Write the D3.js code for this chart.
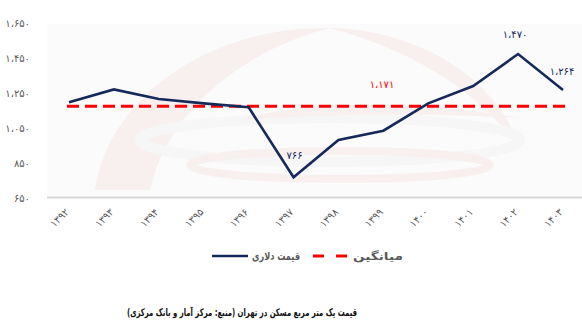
<!DOCTYPE html>
<html>
<head>
<meta charset="utf-8">
<script src="https://cdn.jsdelivr.net/npm/d3@7"></script>
<style>
  html, body { margin: 0; padding: 0; background: #ffffff; }
  svg { display: block; }
  text { font-family: "DejaVu Sans", "Noto Sans", sans-serif; }
</style>
</head>
<body>
<svg id="chart" width="582" height="330"></svg>
<script>
// Price per square metre of housing in Tehran (USD), by Persian year
const years = ["1392", "1393", "1394", "1395", "1396", "1397", "1398", "1399", "1400", "1401", "1402", "1403"];
const dollarPrice = [1194, 1268, 1213, 1188, 1166, 766, 979, 1032, 1188, 1287, 1470, 1264];
const averagePrice = 1171;
const yTicks = [650, 850, 1050, 1250, 1450, 1650];
const labelledPoints = [5, 10, 11]; // indices with value labels
const legendLabels = { line: "قیمت دلاری", avg: "میانگین" };
const titleText = "قیمت یک متر مربع مسکن در تهران (منبع: مرکز آمار و بانک مرکزی)";

const navy = "#15295b";
const red = "#ff0000";

// Persian digits with a thousands separator
const faDigits = "۰۱۲۳۴۵۶۷۸۹";
const toFa = s => String(s).replace(/\d/g, d => faDigits[+d]);
const fmt = v => toFa(d3.format(",")(v)).replace(/,/g, "،");

const svg = d3.select("#chart");

const plot = { left: 47, right: 582, top: 22.5, bottom: 197.6 };

const x = d3.scalePoint().domain(years).range([69, 563]);
const y = d3.scaleLinear().domain([650, 1650]).range([plot.bottom, plot.top]);

// plot area background
svg.append("rect")
  .attr("x", plot.left).attr("y", 24)
  .attr("width", plot.right - plot.left).attr("height", plot.bottom - 24)
  .attr("fill", "#fbfbfb");

// faint logo in the background
const wm = svg.append("g").attr("opacity", 0.045);
wm.append("path")
  .attr("d", "M95,190 C110,90 220,25 330,28 C260,45 170,100 150,190 Z")
  .attr("fill", "#d01010");
wm.append("path")
  .attr("d", "M330,28 C420,30 500,80 520,150 C480,90 410,50 330,28 Z")
  .attr("fill", "#d01010");
wm.append("ellipse").attr("cx", 330).attr("cy", 140).attr("rx", 190).attr("ry", 22)
  .attr("fill", "none").attr("stroke", "#9a9a9a").attr("stroke-width", 10);
wm.append("ellipse").attr("cx", 340).attr("cy", 165).attr("rx", 150).attr("ry", 14)
  .attr("fill", "none").attr("stroke", "#d01010").attr("stroke-width", 8);
wm.append("path")
  .attr("d", "M240,120 C300,100 420,100 520,118 C420,112 320,114 240,120 Z")
  .attr("fill", "#d01010");

// y axis labels
const yAxis = d3.axisLeft(y).tickValues(yTicks).tickSize(0).tickPadding(0).tickFormat(fmt);
const yg = svg.append("g").attr("transform", "translate(30,0)").call(yAxis);
yg.select(".domain").remove();
yg.selectAll("text").attr("fill", "#595959").attr("font-size", 10).attr("dy", "0.35em");

// x axis: baseline and rotated labels
const xAxis = d3.axisBottom(x).tickSize(0).tickPadding(0).tickFormat(toFa);
const xg = svg.append("g").attr("transform", `translate(0,${plot.bottom})`).call(xAxis);
xg.select(".domain").attr("stroke", "#d9d9d9").attr("stroke-width", 2)
  .attr("d", `M${plot.left},0H${plot.right}`);
xg.selectAll("text")
  .attr("fill", "#595959").attr("font-size", 10)
  .attr("text-anchor", "end")
  .attr("dy", 0).attr("y", 0)
  .attr("transform", "translate(0,15) rotate(-45)");

// average line
svg.append("line")
  .attr("x1", x(years[0]) - 2).attr("x2", x(years[years.length - 1]) + 2)
  .attr("y1", y(averagePrice)).attr("y2", y(averagePrice))
  .attr("stroke", red).attr("stroke-width", 3)
  .attr("stroke-dasharray", "12,6");

// dollar price line
const line = d3.line().x((d, i) => x(years[i])).y(d => y(d));
svg.append("path")
  .datum(dollarPrice)
  .attr("d", line)
  .attr("fill", "none")
  .attr("stroke", navy)
  .attr("stroke-width", 2.6)
  .attr("stroke-linejoin", "miter");

// value labels
const labelOffsets = { 5: [1, -18], 10: [-3, -16], 11: [-1, -15] };
svg.selectAll(".vlabel")
  .data(labelledPoints)
  .join("text")
  .attr("class", "vlabel")
  .attr("x", i => x(years[i]) + labelOffsets[i][0])
  .attr("y", i => y(dollarPrice[i]) + labelOffsets[i][1])
  .attr("text-anchor", "middle")
  .attr("font-size", 10)
  .attr("fill", navy)
  .text(i => fmt(dollarPrice[i]));

svg.append("text")
  .attr("x", 382).attr("y", y(averagePrice) - 18)
  .attr("text-anchor", "middle")
  .attr("font-size", 10)
  .attr("fill", red)
  .text(fmt(averagePrice));

// legend
const lg = svg.append("g");
lg.append("line").attr("x1", 212).attr("x2", 248).attr("y1", 256).attr("y2", 256)
  .attr("stroke", navy).attr("stroke-width", 2.6);
lg.append("text").attr("x", 276).attr("y", 260).attr("text-anchor", "middle")
  .attr("direction", "rtl")
  .attr("textLength", 48).attr("lengthAdjust", "spacingAndGlyphs")
  .attr("font-size", 11).attr("font-weight", "bold").attr("fill", "#595959")
  .text(legendLabels.line);
lg.append("line").attr("x1", 313).attr("x2", 347).attr("y1", 256).attr("y2", 256)
  .attr("stroke", red).attr("stroke-width", 3).attr("stroke-dasharray", "11,12");
lg.append("text").attr("x", 378).attr("y", 260).attr("text-anchor", "middle")
  .attr("direction", "rtl")
  .attr("textLength", 50).attr("lengthAdjust", "spacingAndGlyphs")
  .attr("font-size", 11).attr("font-weight", "bold").attr("fill", "#595959")
  .text(legendLabels.avg);

// title
svg.append("text")
  .attr("x", 242).attr("y", 316)
  .attr("text-anchor", "middle")
  .attr("direction", "rtl")
  .attr("textLength", 230).attr("lengthAdjust", "spacingAndGlyphs")
  .attr("font-size", 10.5).attr("font-weight", "bold").attr("fill", "#111")
  .text(titleText);
</script>
</body>
</html>
